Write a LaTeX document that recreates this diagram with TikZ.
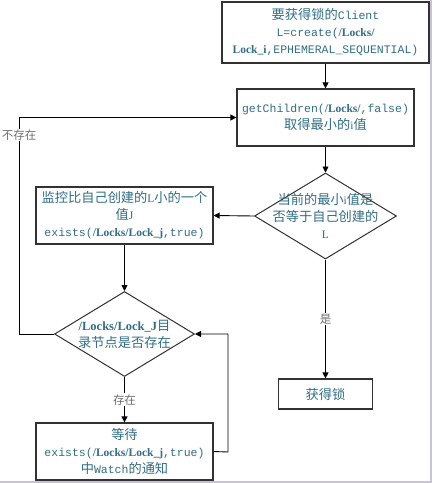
\documentclass[tikz,border=0pt]{standalone}
\usepackage{fontspec}
\setmainfont{Liberation Serif}
\setmonofont{Liberation Mono}
\newfontfamily\cjkf[Scale=1.15]{Noto Sans CJK SC}
\newcommand{\zh}[1]{{\cjkf #1}}
\newcommand{\bp}[1]{{\bfseries\rmfamily #1}}
\usetikzlibrary{arrows.meta,shapes.geometric}
\definecolor{txt}{RGB}{50,110,132}
\definecolor{lbl}{RGB}{110,110,110}
\definecolor{edge}{RGB}{50,50,50}
\definecolor{frame}{RGB}{200,194,210}
\tikzset{
  every node/.style={font=\fontsize{11.5}{17}\selectfont\ttfamily},
  box/.style={draw=edge, line width=1.2pt, fill=white, text=txt, align=center, inner sep=0pt},
  dia/.style={draw=edge, line width=1pt, shape=diamond, fill=white, inner sep=0pt, aspect=1.65},
  dtext/.style={text=txt, align=center, inner sep=0pt},
  arr/.style={draw=black, line width=0.9pt, -{Triangle[length=6pt,width=6pt]}},
  lab/.style={fill=white, text=lbl, inner sep=1pt, font=\fontsize{10}{12}\selectfont\cjkf},
}
\begin{document}
\begin{tikzpicture}[x=1pt,y=-1pt]
\useasboundingbox (0,0) rectangle (432,483);
\fill[white] (0,0) rectangle (432,483);
\draw[frame, line width=1.2pt] (431,0) -- (431,482) -- (0,482);

\node[box, minimum width=207pt, minimum height=61pt] (b1) at (325.5,32.5)
  {\zh{要获得锁的}Client\\L=create(\bp{/Locks/}\\\bp{Lock\_i},EPHEMERAL\_SEQUENTIAL)};
\node[box, minimum width=177pt, minimum height=57pt] (b2) at (325.5,117.5)
  {getChildren(\bp{/Locks/},false)\\\zh{取得最小的}\rmfamily i\zh{值}};
\node[dia, minimum width=142pt, minimum height=86pt] (d1) at (325.5,216) {};
\node[dtext] (t1) at (d1.center)
  {\zh{当前的最小}\rmfamily i\zh{值是}\\\zh{否等于自己创建的}\\\rmfamily L};
\node[box, minimum width=177pt, minimum height=57pt] (b3) at (124.5,215.5)
  {\zh{监控比自己创建的}\rmfamily L\zh{小的一个}\\\zh{值}\rmfamily J\\exists(\bp{/Locks/Lock\_j},true)};
\node[dia, minimum width=140pt, minimum height=85pt] (d2) at (124.5,334) {};
\node[dtext] (t2) at (d2.center)
  {{\fontsize{12.5}{17}\selectfont\bp{/Locks/Lock\_J}}\zh{目}\\\zh{录节点是否存在}};
\node[box, minimum width=177pt, minimum height=57pt] (b4) at (124.5,451.5)
  {\zh{等待}\\exists(\bp{/Locks/Lock\_j},true)\\\zh{中}Watch\zh{的通知}};
\node[box, minimum width=94pt, minimum height=30pt] (b5) at (325.5,394)
  {\zh{获得锁}};

\coordinate (cl) at (19,334);
\coordinate (cr) at (228,452);

\draw[arr] (b1) -- (b2);
\draw[arr] (b2) -- (d1);
\draw[arr] (d1.west) -- (b3.east);
\draw[arr] (b3) -- (d2);
\draw[arr] (d2.south) -- node[lab, pos=0.5] (l1) {存在} (b4.north);
\draw[arr] (d1.south) -- node[lab, pos=0.5] (l2) {是} (b5.north);
\draw[arr] (d2.west) -- (cl) |- node[lab, pos=0.46] (l3) {不存在} (b2.west);
\draw[arr] (b4.east) -- (cr) |- (d2.east);
\end{tikzpicture}
\end{document}
